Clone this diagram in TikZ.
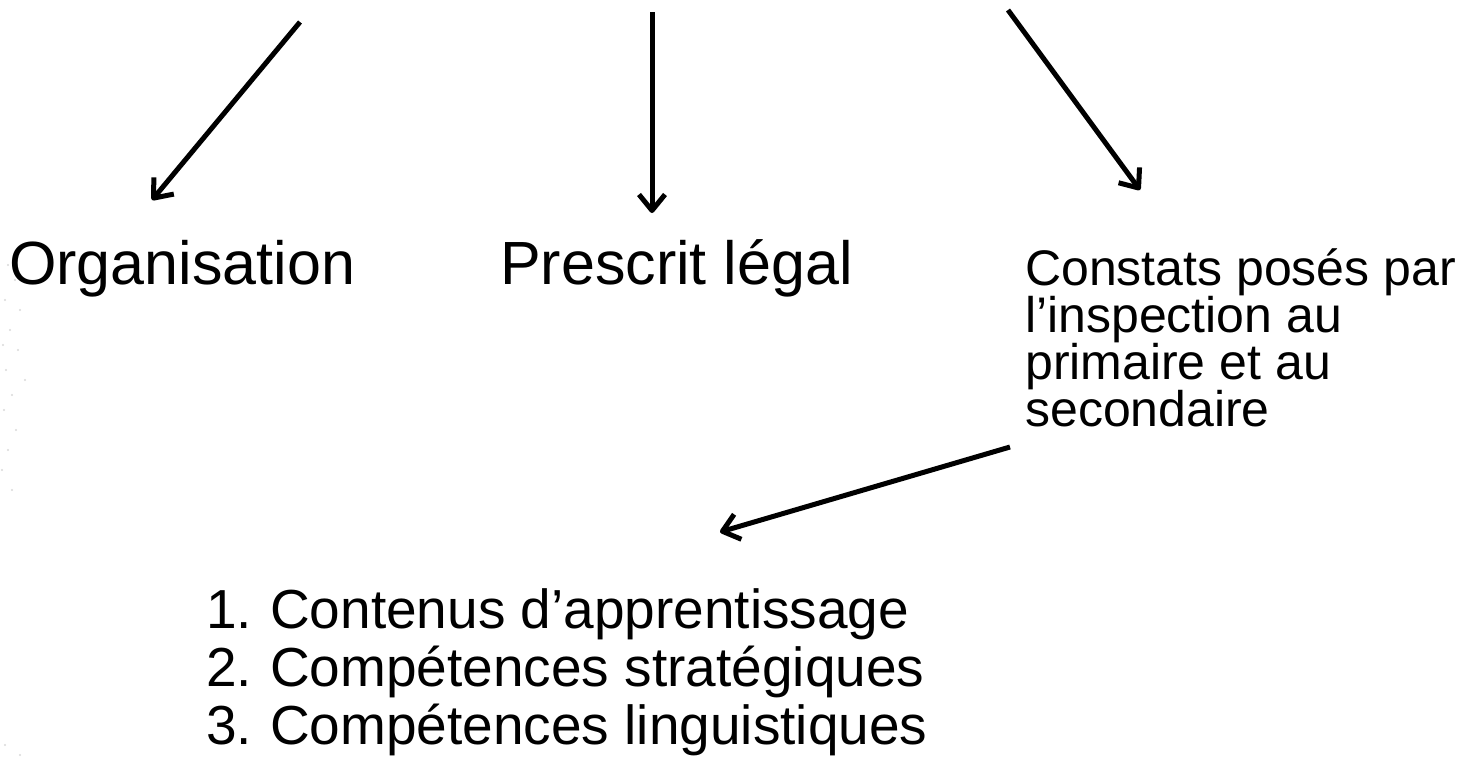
\documentclass[tikz,border=0pt]{standalone}
\usepackage{fontspec}
\setmainfont{Liberation Sans}
\usetikzlibrary{arrows.meta}
\newcommand{\lineblock}[1]{\vtop{\lineskiplimit=-100pt\relax #1}}
\begin{document}
\begin{tikzpicture}[x=1pt,y=-1pt,
  arr/.style={line width=5pt,line join=round,-{Straight Barb[length=16pt,width=26pt,line join=round]}},
  big/.style={font=\fontsize{61}{70}\selectfont,inner sep=0pt},
  mid/.style={font=\fontsize{50}{47}\selectfont,inner sep=0pt},
  lst/.style={font=\fontsize{55}{58}\selectfont,inner sep=0pt},
  speck/.style={fill=gray!30,draw=none}]
\path[use as bounding box,fill=white] (0,0) rectangle (1479,764);
% faint background specks
\foreach \px/\py in {8/265,15/280,5/300,20/310,10/330,3/345,18/350,6/370,25/380,12/395,4/410,16/430,8/450,2/470,12/490,5/745,20/755}
  \fill[speck] (\px,\py) circle (1.2pt);
% labels
\node[big,anchor=base west] (org) at (9,284) {Organisation};
\node[big,anchor=base west] (pres) at (500,284) {Prescrit légal};
\node[mid,anchor=base west] (cons) at (1025,285) {\lineblock{\hbox{Constats posés par}\hbox{l’inspection au}\hbox{primaire et au}\hbox{secondaire}}};
\node[lst,anchor=base west] (list) at (206,628) {\lineblock{\hbox{\makebox[64pt][l]{1.}Contenus d’apprentissage}\hbox{\makebox[64pt][l]{2.}Compétences stratégiques}\hbox{\makebox[64pt][l]{3.}Compétences linguistiques}}};
% arrow ends
\coordinate (s1) at (300,22);
\coordinate (t1) at (152,200);
\coordinate (s2) at (652,12);
\coordinate (t2) at (652,213);
\coordinate (s3) at (1008,10);
\coordinate (t3) at (1140,190);
\coordinate (s4) at (1010,447);
\coordinate (t4) at (720,532);
\draw[arr] (s1) -- (t1);
\draw[arr] (s2) -- (t2);
\draw[arr] (s3) -- (t3);
\draw[arr] (s4) -- (t4);
\end{tikzpicture}
\end{document}
